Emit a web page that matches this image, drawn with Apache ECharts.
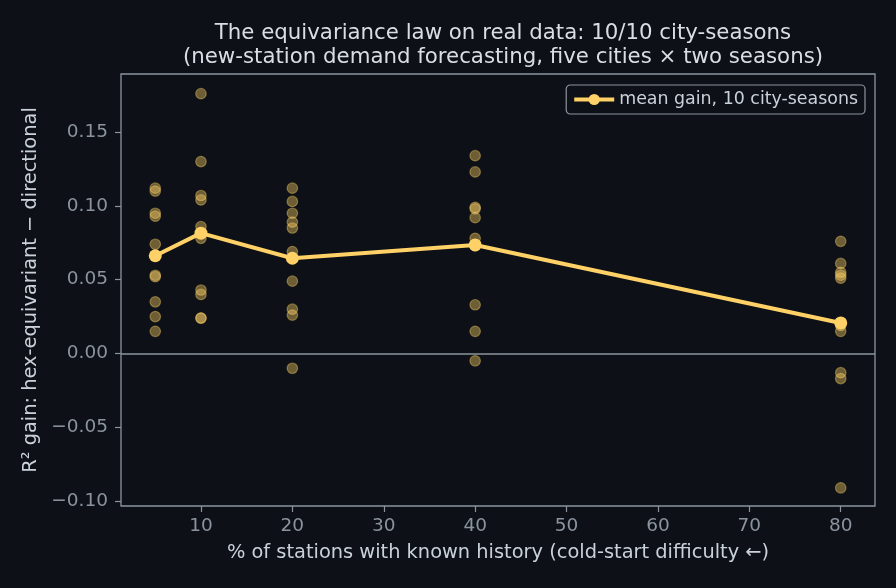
<!DOCTYPE html>
<html>
<head>
<meta charset="utf-8">
<script src="https://cdn.jsdelivr.net/npm/echarts@6/dist/echarts.min.js"></script>
<style>
  html, body { margin: 0; padding: 0; background: #0d1117; }
  #chart { width: 896px; height: 588px; }
</style>
</head>
<body>
<div id="chart"></div>
<script>
// Known-history fractions (%)
const fractions = [5, 10, 20, 40, 80];
// Per city-season gains at each fraction
const gains5  = [0.112, 0.110, 0.095, 0.093, 0.074, 0.053, 0.052, 0.035, 0.025, 0.015];
const gains10 = [0.176, 0.130, 0.107, 0.104, 0.086, 0.078, 0.043, 0.040, 0.024, 0.024];
const gains20 = [0.112, 0.103, 0.095, 0.089, 0.085, 0.069, 0.049, 0.030, 0.026, -0.010];
const gains40 = [0.134, 0.123, 0.099, 0.098, 0.092, 0.078, 0.073, 0.033, 0.015, -0.005];
const gains80 = [0.076, 0.061, 0.055, 0.053, 0.051, 0.019, 0.015, -0.013, -0.017, -0.091];
// Mean gain line
const meanGain = [0.0662, 0.0815, 0.0645, 0.0735, 0.0207];
// Tick labels
const xTicks = [10, 20, 30, 40, 50, 60, 70, 80];
const yTicks = [-0.10, -0.05, 0.00, 0.05, 0.10, 0.15];

const allGains = [gains5, gains10, gains20, gains40, gains80];
const scatterData = [];
allGains.forEach((arr, i) => arr.forEach(v => scatterData.push([fractions[i], v])));
const meanData = fractions.map((f, i) => [f, meanGain[i]]);

const axisCol = '#8b949e';
const textCol = '#c9d1d9';
const yellow = '#ffd166';
const font = 'DejaVu Sans';

const chart = echarts.init(document.getElementById('chart'), null, { renderer: 'canvas' });
chart.setOption({
  backgroundColor: '#0d1117',
  animation: false,
  textStyle: { fontFamily: font },
  title: {
    text: 'The equivariance law on real data: 10/10 city-seasons\n(new-station demand forecasting, five cities × two seasons)',
    left: 498, top: 16, textAlign: 'center',
    textStyle: { color: '#d9dee5', fontSize: 21.3, fontWeight: 'normal', fontFamily: font, lineHeight: 24 }
  },
  legend: {
    data: ['mean gain, 10 city-seasons'],
    right: 31, top: 85,
    padding: [6, 7, 6, 6],
    itemWidth: 40, itemHeight: 14, itemGap: 10,
    borderColor: axisCol, borderWidth: 1.2, borderRadius: 4,
    backgroundColor: '#0d1117',
    lineStyle: { width: 4, color: yellow },
    itemStyle: { color: yellow },
    textStyle: { color: textCol, fontSize: 17.4, fontFamily: font }
  },
  grid: { left: 121, right: 21, top: 74, bottom: 82, show: true, borderColor: axisCol, borderWidth: 1.3, backgroundColor: 'transparent' },
  xAxis: {
    type: 'value', min: 1.25, max: 83.75,
    name: '% of stations with known history (cold-start difficulty ←)',
    nameLocation: 'middle', nameGap: 37,
    nameTextStyle: { color: textCol, fontSize: 19.4, fontFamily: font },
    axisLine: { show: false, onZero: false },
    axisTick: { show: true, length: 6, lineStyle: { color: axisCol, width: 1.2 }, customValues: xTicks },
    axisLabel: { color: axisCol, fontSize: 18.5, margin: 11, fontFamily: font, customValues: xTicks,
                 formatter: v => String(v) },
    splitLine: { show: false }
  },
  yAxis: {
    type: 'value', min: -0.1033, max: 0.1893,
    name: 'R² gain: hex-equivariant − directional',
    nameLocation: 'middle', nameGap: 80, nameRotate: 90,
    nameTextStyle: { color: textCol, fontSize: 19.4, fontFamily: font },
    axisLine: { show: false, onZero: false },
    axisTick: { show: true, length: 6, lineStyle: { color: axisCol, width: 1.2 }, customValues: yTicks },
    axisLabel: { color: axisCol, fontSize: 18.5, margin: 13, fontFamily: font, customValues: yTicks,
                 formatter: v => (v < -1e-9 ? '−' : '') + Math.abs(v).toFixed(2) },
    splitLine: { show: false }
  },
  series: [
    {
      name: 'points',
      type: 'scatter',
      data: scatterData,
      symbolSize: 10.5,
      itemStyle: { color: 'rgba(255,209,102,0.5)', borderColor: 'rgba(255,209,102,0.5)', borderWidth: 1.2 },
      z: 2,
      markLine: {
        silent: true, symbol: 'none', label: { show: false },
        lineStyle: { color: axisCol, width: 1.6, type: 'solid' },
        data: [{ yAxis: 0 }]
      }
    },
    {
      name: 'mean gain, 10 city-seasons',
      type: 'line',
      data: meanData,
      symbol: 'circle', symbolSize: 13,
      lineStyle: { color: yellow, width: 4 },
      itemStyle: { color: yellow },
      z: 5
    }
  ]
});
</script>
</body>
</html>
